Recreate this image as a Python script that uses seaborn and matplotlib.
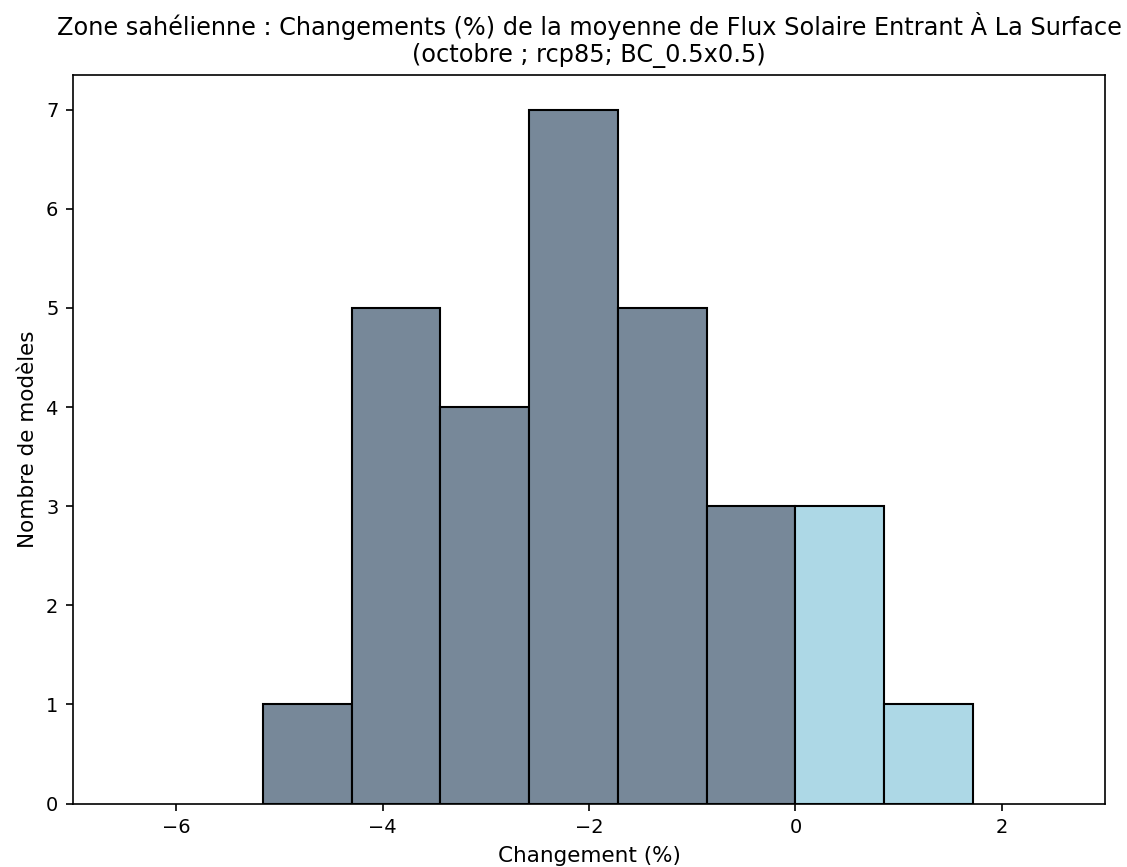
import matplotlib
matplotlib.use("Agg")
import matplotlib.pyplot as plt
import seaborn as sns
import numpy as np
import pandas as pd

# bins of 0.86 % aligned on zero, counts
bin_edges = [-5.16, -4.30, -3.44, -2.58, -1.72, -0.86, 0.0, 0.86, 1.72]
counts = [1, 5, 4, 7, 5, 3, 3, 1]

title = ("Zone sahélienne : Changements (%) de la moyenne de Flux Solaire Entrant À La Surface\n"
         "(octobre ; rcp85; BC_0.5x0.5)")
x_label = "Changement (%)"
y_label = "Nombre de modèles"

edges = np.array(bin_edges)
centres = (edges[:-1] + edges[1:]) / 2
df = pd.DataFrame({"centre": centres, "n": counts})
neg = df[df["centre"] < 0]
pos = df[df["centre"] >= 0]
neg_bins = [e for e in bin_edges if e <= 0]
pos_bins = [e for e in bin_edges if e >= 0]

fig, ax = plt.subplots(figsize=(1127 / 150, 867 / 150), dpi=150)

# negative changes in grey-blue, positive in light blue
sns.histplot(data=neg, x="centre", weights="n", bins=neg_bins,
             color="lightslategray", alpha=1, edgecolor="black", linewidth=1, ax=ax)
sns.histplot(data=pos, x="centre", weights="n", bins=pos_bins,
             color="lightblue", alpha=1, edgecolor="black", linewidth=1, ax=ax)

ax.set_xlim(-7, 3)
ax.set_title(title, fontsize=11.5)
ax.set_xlabel(x_label, fontsize=10.3)
ax.set_ylabel(y_label, fontsize=10.3)
ax.tick_params(labelsize=9.3)

fig.subplots_adjust(left=0.0648, right=0.9805, bottom=0.0731, top=0.9135)
plt.savefig("out.png", dpi=150)
plt.close()
